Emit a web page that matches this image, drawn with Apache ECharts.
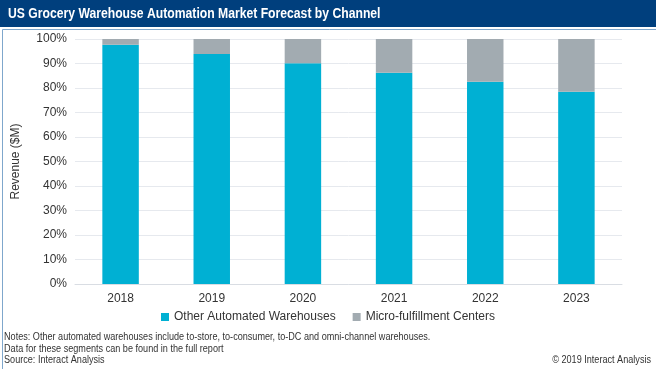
<!DOCTYPE html>
<html><head><meta charset="utf-8">
<script src="https://cdn.jsdelivr.net/npm/echarts@6/dist/echarts.min.js"></script>
<style>html,body{margin:0;padding:0;background:#fff}#c{width:656px;height:369px}</style>
</head><body><div id="c"></div>
<script>
const categories = ['2018','2019','2020','2021','2022','2023'];
const otherWarehouses = [97.7, 93.9, 90.1, 86.2, 82.6, 78.5];
const microFulfillment = [2.3, 6.1, 9.9, 13.8, 17.4, 21.5];
const yTicks = [0,10,20,30,40,50,60,70,80,90,100];

const noteFont = '10px Liberation Sans, Arial, sans-serif';
const chart = echarts.init(document.getElementById('c'));
chart.setOption({
  animation:false,
  textStyle:{fontFamily:'Liberation Sans, Arial, sans-serif'},
  grid:{left:75,right:34,top:39,bottom:85},
  legend:{
    bottom:41, left:'center', itemWidth:8, itemHeight:8, itemGap:17,
    icon:'rect',
    textStyle:{fontSize:12,color:'#333'},
    data:['Other Automated Warehouses','Micro-fulfillment Centers']
  },
  xAxis:{type:'category',data:categories,
    axisLine:{lineStyle:{color:'#d9dde3'}},axisTick:{show:false},
    axisLabel:{fontSize:12,color:'#333',margin:9}},
  yAxis:{type:'value',min:0,max:100,interval:10,
    name:'Revenue ($M)',nameLocation:'middle',nameGap:53,nameRotate:90,
    nameTextStyle:{fontSize:12,color:'#333'},
    axisLine:{show:false},axisTick:{show:false},
    splitLine:{lineStyle:{color:'#e6e9ee'}},
    axisLabel:{fontSize:12,color:'#333',margin:8,formatter:v=>v+'%'}},
  series:[
    {name:'Other Automated Warehouses',type:'bar',stack:'a',barWidth:'40%',data:otherWarehouses,itemStyle:{color:'#00B0D3'}},
    {name:'Micro-fulfillment Centers',type:'bar',stack:'a',data:microFulfillment,itemStyle:{color:'#A2ABB1'}}
  ],
  graphic:[
    {type:'rect',left:0,top:0,shape:{width:656,height:27},style:{fill:'#003F7D'},z:10},
    {type:'text',x:8,y:7,scaleX:0.87,style:{text:'US Grocery Warehouse Automation Market Forecast by Channel',fill:'#fff',font:'bold 14px Liberation Sans, Arial, sans-serif'},z:11},
    {type:'rect',left:0,top:27,shape:{width:655,height:341},style:{fill:'none',stroke:'#7fa7cc',lineWidth:1},z:9},
    {type:'text',x:4,y:332,scaleX:0.91,style:{text:'Notes: Other automated warehouses include to-store, to-consumer, to-DC and omni-channel warehouses.',fill:'#333',font:noteFont}},
    {type:'text',x:4,y:344,scaleX:0.91,style:{text:'Data for these segments can be found in the full report',fill:'#333',font:noteFont}},
    {type:'text',x:4,y:355,scaleX:0.91,style:{text:'Source: Interact Analysis',fill:'#333',font:noteFont}},
    {type:'text',x:651,y:355,scaleX:0.91,style:{text:'© 2019 Interact Analysis',fill:'#333',font:noteFont,textAlign:'right'}}
  ]
});
</script></body></html>
